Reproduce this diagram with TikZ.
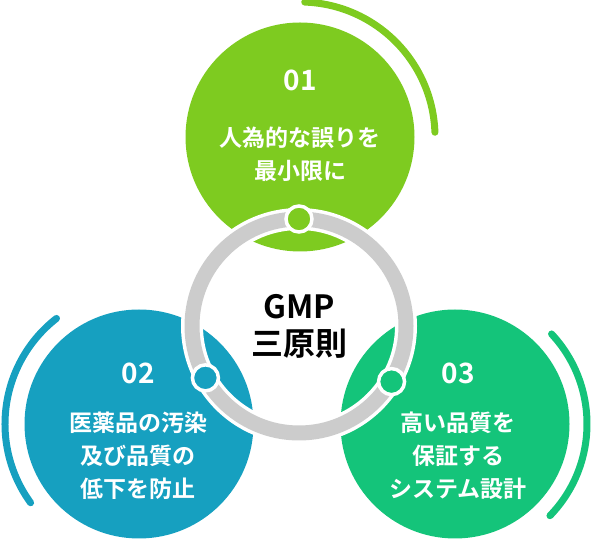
\documentclass[tikz,border=0pt]{standalone}
\usepackage{fontspec}
\setmainfont{Noto Sans CJK JP}[BoldFont={Noto Sans CJK JP Bold}]
\usepackage{tikz}
\usetikzlibrary{
	positioning,
	calc
}
\usepackage{xcolor}
\definecolor{limegreen}{HTML}{7ECB20}
\definecolor{seablue}{HTML}{16A0C0}
\definecolor{mintgreen}{HTML}{14C47A}
\definecolor{ringgray}{HTML}{CCCCCC}

\begin{document}
\begin{tikzpicture}[x=1pt,y=1pt,
		disc/.style={circle,inner sep=0pt,minimum size=229pt},
		dot/.style={circle,inner sep=0pt,minimum size=26pt,draw=white,line width=3.5pt},
		arcline/.style={line width=7pt,line cap=round},
		num/.style={text=white,font=\bfseries\fontsize{28}{28}\selectfont},
		lbl/.style={text=white,align=center,font=\bfseries\fontsize{23}{33}\selectfont},
		title/.style={text=black,align=center,font=\bfseries\fontsize{32}{37}\selectfont}]
		
		\useasboundingbox (0,0) rectangle (594,540);
		
		% three principles
		\node[disc,fill=limegreen] (p1) at (300,403) {};
		\node[disc,fill=seablue] (p2) at (139,116) {};
		\node[disc,fill=mintgreen] (p3) at (455,116) {};
		
		% outer arcs
		\draw[arcline,limegreen] ([shift={(2:135pt)}]p1.center)
		arc[start angle=2,end angle=88,radius=135pt];
		\draw[arcline,seablue] ([shift={(128:134pt)}]p2.center)
		arc[start angle=128,end angle=216,radius=134pt];
		\draw[arcline,mintgreen] ([shift={(-44:132pt)}]p3.center)
		arc[start angle=-44,end angle=43,radius=132pt];
		
		% center ring
		\coordinate (c) at (299,214);
		\draw[white,line width=22pt] (c) circle[radius=107pt];
		\draw[ringgray,line width=15pt] (c) circle[radius=107pt];
		\node[dot,fill=limegreen] (d1) at ($(c)+(90:107pt)$) {};
		\node[dot,fill=seablue] (d2) at ($(c)+(209:107pt)$) {};
		\node[dot,fill=mintgreen] (d3) at ($(c)+(329:108pt)$) {};
		
		\node[title] (gmp) at (c) {GMP\\三原則};
		
		% texts
		\node[num] (n1) at (300,460) {01};
		\node[lbl] (t1) at (300,386) {人為的な誤りを\\最小限に};
		
		\node[num] (n2) at (138,167) {02};
		\node[lbl] (t2) at (138,84) {医薬品の汚染\\及び品質の\\低下を防止};
		
		\node[num] (n3) at (458,167) {03};
		\node[lbl] (t3) at (458,84) {高い品質を\\保証する\\システム設計};
		
	\end{tikzpicture}
\end{document}
